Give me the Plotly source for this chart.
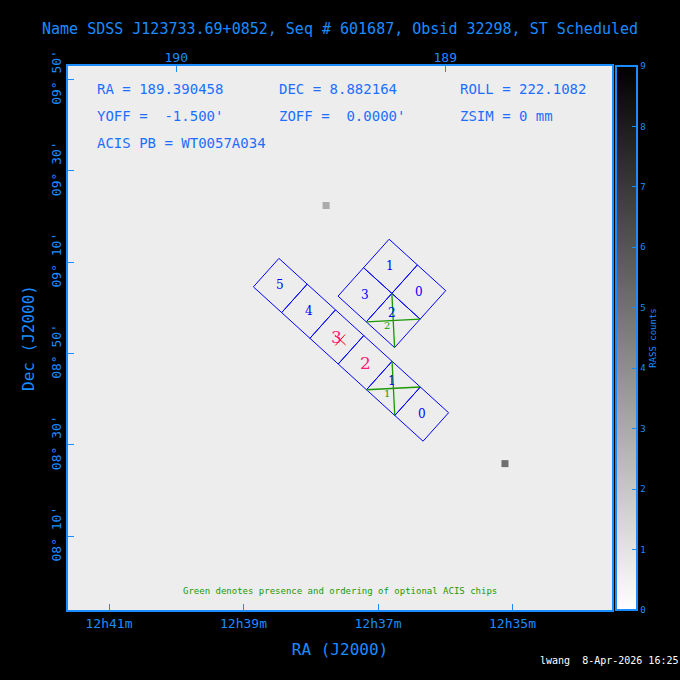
import math
import plotly.graph_objects as go

# pointing
ra0 = 189.390458
dec0 = 8.882164
roll = 222.1082
chip_size = 8.4  # arcmin

# chip layout: (name, along-array offset, across-array offset) in arcmin from aimpoint
s_names = ["5", "4", "3", "2", "1", "0"]
s_along = [-17.8, -9.4, -1.0, 7.4, 15.8, 24.2]
s_across = [0.0, 0.0, 0.0, 0.0, 0.0, 0.0]
s_selected = [False, False, True, True, False, False]
s_optional = [None, None, None, None, "1", None]

i_names = ["1", "0", "3", "2"]
i_along = [-2.6, 5.8, -2.6, 5.8]
i_across = [-19.4, -19.4, -11.0, -11.0]
i_optional = [None, None, None, "2"]

# bright RASS sources (approx)
src_ra = [188.778, 189.443]
src_dec = [8.431, 9.373]
src_val = [7, 4]

cb_ticks = list(range(10))

# axis ticks
ra_ticks = [190.25, 189.75, 189.25, 188.75]
ra_text = ["12h41m", "12h39m", "12h37m", "12h35m"]
deg_ticks = [190, 189]
dec_ticks = [9 + 50 / 60, 9 + 30 / 60, 9 + 10 / 60, 8 + 50 / 60, 8 + 30 / 60, 8 + 10 / 60]
dec_text = ["09\u00b0 50'", "09\u00b0 30'", "09\u00b0 10'", "08\u00b0 50'", "08\u00b0 30'", "08\u00b0 10'"]

blue = "#1a8cff"
chip_blue = "#0000ff"
pink = "#ff1a75"
green = "#1a9900"

t = math.radians(roll - 180)
cosd = math.cos(math.radians(dec0))


def to_sky(a, b):
    dx = a * math.cos(t) - b * math.sin(t)
    dy = a * math.sin(t) + b * math.cos(t)
    return ra0 - dx / 60 / cosd, dec0 - dy / 60


def chip_poly(a, b):
    h = chip_size / 2
    pts = [(a - h, b - h), (a + h, b - h), (a + h, b + h), (a - h, b + h), (a - h, b - h)]
    sky = [to_sky(p, q) for p, q in pts]
    return [s[0] for s in sky], [s[1] for s in sky]


px_per_deg = 274
ra_left = 189.25 + (378 - 68) / 269
ra_right = 189.25 - (612 - 378) / 269
dec_top = dec0 + (340 - 66) / px_per_deg
dec_bot = dec0 - (610 - 340) / px_per_deg

fig = go.Figure()

# colorbar carrier + sources
fig.add_trace(go.Scatter(
    x=src_ra, y=src_dec, mode="markers",
    marker=dict(size=7, symbol="square", color=src_val, cmin=0, cmax=9,
                colorscale=[[0, "#ffffff"], [1, "#000000"]], opacity=0.7,
                colorbar=dict(x=1.0075, xanchor="left", xpad=0, ypad=0, thickness=21, len=1.0, y=0.5,
                              outlinecolor=blue, outlinewidth=2, tickvals=cb_ticks,
                              ticks="inside", tickcolor=blue, ticklen=6,
                              tickfont=dict(color=blue, size=9, family="DejaVu Sans Mono"),
                              title=dict(text="RASS counts", side="right",
                                         font=dict(color=blue, size=9, family="DejaVu Sans Mono")))),
    showlegend=False, hoverinfo="skip"))


def add_chips(names, along, across, optional, selected=None):
    for k, name in enumerate(names):
        xs, ys = chip_poly(along[k], across[k])
        fig.add_trace(go.Scatter(x=xs, y=ys, mode="lines", line=dict(color=chip_blue, width=1),
                                 showlegend=False, hoverinfo="skip"))
        sel = selected is not None and selected[k]
        if optional[k]:
            cx, cy = to_sky(along[k] - 1.2, across[k] - 1.0)
        else:
            cx, cy = to_sky(along[k], across[k])
        fig.add_annotation(x=cx, y=cy, text=name, showarrow=False,
                           font=dict(color=pink if sel else chip_blue, size=17 if sel else 12,
                                     family="DejaVu Serif"))
        if optional[k]:
            h = chip_size / 2
            for p0, p1 in [((-h, -h), (h, h)), ((h, -h), (-h, h))]:
                s0 = to_sky(along[k] + p0[0], across[k] + p0[1])
                s1 = to_sky(along[k] + p1[0], across[k] + p1[1])
                fig.add_trace(go.Scatter(x=[s0[0], s1[0]], y=[s0[1], s1[1]], mode="lines",
                                         line=dict(color=green, width=1.3),
                                         showlegend=False, hoverinfo="skip"))
            gx, gy = to_sky(along[k] - 0.2, across[k] + 1.8)
            fig.add_annotation(x=gx, y=gy, text=optional[k], showarrow=False,
                               font=dict(color=green, size=10, family="DejaVu Serif"))


add_chips(s_names, s_along, s_across, s_optional, s_selected)
add_chips(i_names, i_along, i_across, i_optional)

# aimpoint cross
for d in [(-1.6, 0), (0, -1.6)]:
    a0 = to_sky(d[0], d[1])
    a1 = to_sky(-d[0], -d[1])
    fig.add_trace(go.Scatter(x=[a0[0], a1[0]], y=[a0[1], a1[1]], mode="lines",
                             line=dict(color="red", width=1), showlegend=False, hoverinfo="skip"))

# hidden trace for the top axis
fig.add_trace(go.Scatter(x=[ra0], y=[dec0], xaxis="x2", mode="markers",
                         marker=dict(opacity=0), showlegend=False, hoverinfo="skip"))

info_font = dict(color="#1e6fff", size=14, family="DejaVu Sans Mono")
info = [
    (95, 89, "RA = 189.390458"), (277, 89, "DEC = 8.882164"), (458, 89, "ROLL = 222.1082"),
    (95, 116, "YOFF =  -1.500'"), (277, 116, "ZOFF =  0.0000'"), (458, 116, "ZSIM = 0 mm"),
    (95, 143, "ACIS PB = WT0057A034"),
]
for px, py, txt in info:
    fig.add_annotation(x=(px - 68) / 544, y=1 - (py - 66) / 544, xref="paper", yref="paper",
                       text=txt, showarrow=False, xanchor="left", yanchor="middle", font=info_font)

fig.add_annotation(x=0.5, y=1 - (598 - 66) / 544, xref="paper", yref="paper",
                   text="Green denotes presence and ordering of optional ACIS chips",
                   showarrow=False, font=dict(color=green, size=9, family="DejaVu Sans Mono"))
fig.add_annotation(x=0.5, y=1, xref="paper", yref="paper", yshift=26,
                   text="Name SDSS J123733.69+0852, Seq # 601687, Obsid 32298, ST Scheduled",
                   showarrow=False, yanchor="bottom",
                   font=dict(color=blue, size=15, family="DejaVu Sans Mono"))
fig.add_annotation(x=(612 - 68) / 544 + 0.125, y=-(668 - 610) / 544, xref="paper", yref="paper",
                   text="lwang  8-Apr-2026 16:25", showarrow=False, xanchor="right",
                   font=dict(color="white", size=10, family="DejaVu Sans Mono"))

axis_common = dict(showgrid=False, zeroline=False, showline=True, linecolor=blue, linewidth=2,
                   mirror=True, ticks="inside", tickcolor=blue, ticklen=6,
                   tickfont=dict(color=blue, size=13, family="DejaVu Sans Mono"))

fig.update_layout(
    width=680, height=680,
    margin=dict(l=68, r=68, t=66, b=70),
    paper_bgcolor="black", plot_bgcolor="#ededed",
    xaxis=dict(range=[ra_left, ra_right], tickvals=ra_ticks, ticktext=ra_text,
               title=dict(text="RA (J2000)", font=dict(color=blue, size=16, family="DejaVu Sans Mono"),
                          standoff=14),
               **axis_common),
    xaxis2=dict(range=[ra_left, ra_right], overlaying="x", side="top", tickvals=deg_ticks,
                ticktext=["190", "189"], showgrid=False, zeroline=False, ticks="inside",
                tickcolor=blue, ticklen=6,
                tickfont=dict(color=blue, size=13, family="DejaVu Sans Mono")),
    yaxis=dict(range=[dec_bot, dec_top], tickvals=dec_ticks, ticktext=dec_text, tickangle=-90,
               title=dict(text="Dec (J2000)", font=dict(color=blue, size=16, family="DejaVu Sans Mono"),
                          standoff=10),
               **axis_common),
)

fig.write_html("out.html", config={"displayModeBar": False},
               post_script="document.body.style.margin='0';")
